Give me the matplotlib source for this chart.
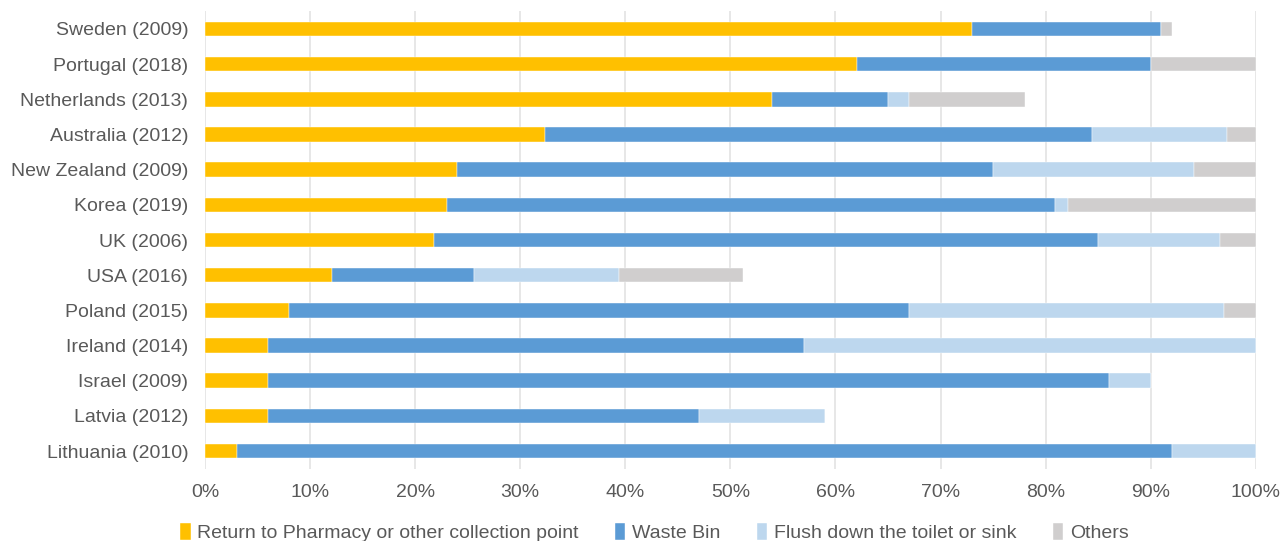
import matplotlib.pyplot as plt
import numpy as np

plt.rcParams['font.family'] = ['Liberation Sans', 'DejaVu Sans']

countries = ['Sweden (2009)', 'Portugal (2018)', 'Netherlands (2013)', 'Australia (2012)',
             'New Zealand (2009)', 'Korea (2019)', 'UK (2006)', 'USA (2016)',
             'Poland (2015)', 'Ireland (2014)', 'Israel (2009)', 'Latvia (2012)',
             'Lithuania (2010)']
pharmacy = [73, 62, 54, 32.4, 24, 23, 21.8, 12.1, 8, 6, 6, 6, 3]
waste_bin = [18, 28, 11, 52.0, 51, 57.9, 63.2, 13.5, 59, 51, 80, 41, 89]
flush = [0, 0, 2, 12.9, 19.1, 1.2, 11.6, 13.8, 30, 43, 4, 12, 8]
others = [1, 10, 11, 2.7, 5.9, 17.9, 3.4, 11.8, 3, 0, 0, 0, 0]

series = [
    ('Return to Pharmacy or other collection point', pharmacy, '#FFC000'),
    ('Waste Bin', waste_bin, '#5B9BD5'),
    ('Flush down the toilet or sink', flush, '#BDD7EE'),
    ('Others', others, '#D0CECE'),
]

fig = plt.figure(figsize=(12.83, 5.41), dpi=100)
ax = fig.add_axes([0.1598, 0.1338, 0.8190, 0.8451])

y = np.arange(len(countries))
left = np.zeros(len(countries))
for label, vals, color in series:
    vals = np.array(vals, dtype=float)
    ax.barh(y, vals, left=left, height=0.41, color=color, label=label,
            edgecolor='white', linewidth=0.3, zorder=3)
    left += vals

ax.set_ylim(len(countries) - 0.5, -0.5)
ax.set_xlim(0, 100)
ax.set_xticks(np.arange(0, 101, 10))
ax.set_xticklabels([f'{v}%' for v in range(0, 101, 10)])
ax.set_yticks(y)
ax.set_yticklabels(countries)
ax.tick_params(axis='both', length=0, labelsize=14, labelcolor='#595959')
ax.tick_params(axis='y', pad=12)
ax.tick_params(axis='x', pad=11)
ax.grid(axis='x', color='#E0E0E0', linewidth=1.1, zorder=0)
for s in ax.spines.values():
    s.set_visible(False)

leg = fig.legend(loc='center', bbox_to_anchor=(0.51, 0.015), ncol=4, frameon=False,
                 fontsize=14, handlelength=0.55, handleheight=0.9, handletextpad=0.35,
                 columnspacing=1.85, labelcolor='#595959')

fig.savefig('out.png', dpi=100)
